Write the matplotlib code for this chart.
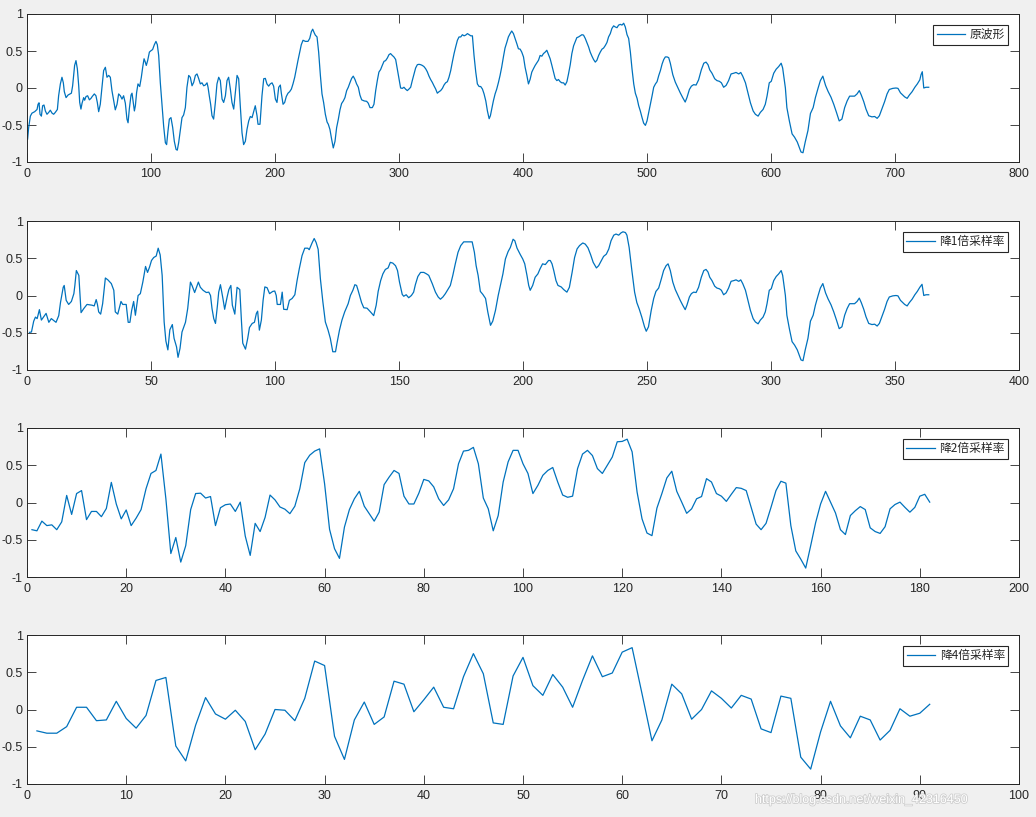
import numpy as np
import matplotlib
matplotlib.use("Agg")
import matplotlib.pyplot as plt
import matplotlib.patheffects as pe

# ---------------- data ----------------
labels = ["原波形", "降1倍采样率", "降2倍采样率", "降4倍采样率"]
xlims = [800, 400, 200, 100]
xsteps = [100, 50, 20, 10]

# panel 1: original waveform (vertices)
wave_x = [
    0.5, 1.3, 2.7, 4.0, 6.2, 8.1, 8.9, 9.7, 10.5, 11.6,
    12.6, 13.7, 14.8, 16.1, 17.5, 18.8, 20.2, 21.5, 22.8, 24.5,
    25.5, 26.9, 28.2, 29.3, 30.1, 31.5, 33.1, 34.7, 35.8, 36.8,
    38.4, 39.5, 40.6, 41.7, 42.5, 43.5, 44.4, 45.7, 46.5, 47.6,
    48.9, 50.3, 51.6, 52.6, 54.3, 55.6, 56.7, 57.8, 59.1, 60.5,
    61.8, 63.2, 64.5, 65.9, 67.2, 68.5, 69.9, 71.2, 72.6, 73.9,
    75.3, 76.6, 77.9, 79.3, 80.6, 81.5, 82.5, 83.9, 84.7, 85.5,
    86.6, 87.4, 88.4, 89.5, 90.9, 92.2, 93.3, 94.4, 95.4, 96.2,
    97.3, 98.7, 99.7, 101.3, 102.7, 104.0, 105.1, 106.2, 107.5, 108.9,
    110.2, 111.6, 112.6, 113.7, 114.8, 116.1, 117.5, 118.8, 120.2, 121.2,
    122.3, 123.7, 125.0, 126.3, 127.7, 129.0, 130.4, 131.7, 133.1, 134.4,
    135.8, 137.1, 138.4, 139.8, 141.1, 142.5, 143.8, 145.2, 146.0, 147.0,
    148.1, 149.2, 150.5, 151.9, 153.2, 154.6, 155.9, 157.3, 158.6, 160.0,
    161.3, 162.6, 164.0, 165.3, 166.7, 168.0, 169.4, 170.7, 172.0, 173.4,
    174.7, 176.1, 177.4, 178.8, 180.1, 181.5, 182.8, 184.1, 185.5, 186.3,
    187.9, 189.5, 190.9, 192.2, 193.5, 194.9, 196.2, 197.6, 198.9, 200.3,
    201.6, 203.0, 204.3, 205.1, 206.5, 207.8, 209.1, 210.5, 211.8, 213.2,
    214.5, 215.9, 217.2, 218.5, 219.9, 221.2, 222.6, 224.5, 226.6, 228.0,
    229.3, 230.4, 231.5, 232.5, 233.9, 235.2, 236.6, 237.9, 239.2, 240.6,
    242.0,
    243.0, 244.3, 245.7, 247.0, 248.4, 249.7, 251.1, 252.4, 253.7, 255.1,
    256.4, 257.8, 259.1, 260.4, 261.8, 263.1, 264.5, 265.8, 267.2, 268.5,
    269.9, 272.0, 273.9, 275.2, 276.6, 278.5, 279.8, 281.2, 282.5, 283.8,
    285.2, 286.5, 287.9, 289.2, 290.6, 291.9, 293.2, 294.6, 295.9, 297.3,
    298.6, 300.0, 301.3, 302.7, 304.0, 305.3, 306.7, 308.0, 309.4, 310.7,
    312.1, 313.4, 314.8, 316.1, 317.5, 318.8, 320.1, 321.5, 322.8, 324.2,
    325.5, 326.9, 328.2, 329.6, 330.9, 332.3, 333.6, 335.0, 336.3, 337.6,
    339.0, 340.3, 341.7, 343.0, 344.4, 345.7, 347.1, 348.4, 349.8, 351.1,
    352.5, 353.8, 355.2, 356.5, 357.9, 359.2, 360.5, 361.9, 363.2, 364.6,
    365.9, 367.3, 368.6, 370.0, 371.3, 372.7, 373.7, 374.8, 376.1, 377.5,
    378.8, 380.2, 381.5, 382.8, 384.2, 385.5, 386.9, 388.2, 389.6, 390.9,
    392.3, 393.6, 395.0, 396.3, 397.7, 399.0, 400.4, 401.7, 403.1, 404.4,
    405.7, 407.1, 408.4, 409.8, 411.1, 412.5, 413.8, 415.2, 416.5, 417.9,
    419.2, 420.6, 421.9, 423.3, 424.6, 425.9, 427.3, 428.6, 430.0, 431.3,
    432.7, 434.0, 435.4, 436.7, 438.1, 439.4, 440.8, 442.1, 443.4, 444.8,
    446.1, 447.5, 448.8, 450.2, 451.5, 452.9, 454.2, 455.6, 456.9, 458.3,
    459.6, 461.0, 462.3, 463.7, 465.0, 466.4, 467.7, 469.0, 470.4, 471.7,
    473.1, 474.4, 475.8, 477.1, 478.5, 479.8, 481.2, 482.5, 483.9, 485.2,
    486.6, 487.9, 489.3, 490.6, 492.0, 493.3, 494.6, 496.0, 497.3, 498.7,
    500.0, 501.4, 502.7, 504.1, 505.4, 506.8, 508.1, 509.5, 510.8, 512.2,
    513.5, 514.8, 516.2, 517.5,
    518.8, 520.8, 522.8, 525.0, 526.8, 528.8, 530.8, 532.2, 534.2, 535.8,
    537.6, 539.6, 541.6, 543.8, 545.8, 547.6, 549.2, 550.6, 552.4, 554.6,
    556.4, 558.4, 560.0, 561.8, 563.8, 565.8, 567.8, 570.0, 571.8, 574.0,
    575.6, 577.2, 579.4, 581.4, 583.4, 585.6, 587.4, 589.6, 591.4, 593.6,
    595.4, 596.8, 598.6, 600.2, 602.2, 604.2, 606.2, 608.2, 609.4, 611.6,
    612.8, 614.8, 617.0, 619.0, 621.2, 622.8, 624.2, 625.8, 627.6, 629.8,
    631.8, 634.0, 635.8, 638.0, 639.8, 641.8, 644.0, 646.0, 648.4, 650.6,
    652.8, 655.0, 657.2, 659.4, 661.4, 663.4, 667.4, 669.4, 671.2, 672.8,
    674.8, 676.6, 678.8, 681.4, 683.6, 685.6, 687.4, 689.4, 691.6, 693.6,
    695.4, 698.2, 700.8, 702.4, 704.4, 706.2, 707.8, 709.8, 711.6, 713.8,
    716.0, 718.0, 720.0, 721.0, 722.0, 723.2, 725.0, 727.2,
]
wave_y = [
    -0.69, -0.54, -0.38, -0.34, -0.32, -0.29, -0.22, -0.2, -0.355, -0.38,
    -0.24, -0.23, -0.31, -0.355, -0.33, -0.30, -0.34, -0.355, -0.33, -0.29,
    -0.105, 0.055, 0.145, 0.07, -0.05, -0.13, -0.095, -0.08, -0.07, 0.03,
    0.305, 0.37, 0.26, 0.03, -0.195, -0.285, -0.205, -0.13, -0.165, -0.115,
    -0.105, -0.16, -0.14, -0.115, -0.08, -0.105, -0.195, -0.32, -0.22, 0.01,
    0.235, 0.28, 0.145, 0.17, 0.145, -0.035, -0.17, -0.295, -0.22, -0.08,
    -0.105, -0.15, -0.105, -0.205, -0.42, -0.47, -0.285, -0.095, -0.07, -0.17,
    -0.31, -0.24, -0.06, 0.055, 0.02, 0.145, 0.28, 0.395, 0.35, 0.305,
    0.37, 0.485, 0.5, 0.52, 0.585, 0.63, 0.585, 0.44, 0.075, -0.24,
    -0.515, -0.74, -0.765, -0.58, -0.42, -0.4, -0.535, -0.72, -0.83, -0.84,
    -0.74, -0.56, -0.40, -0.365, -0.265, 0.01, 0.17, 0.145, 0.03, 0.075,
    0.17, 0.19, 0.13, 0.055, 0.07, 0.03, 0.04, 0.07, 0.01, -0.105,
    -0.22, -0.375, -0.42, -0.195, 0.055, 0.145, 0.1, -0.15, -0.195, -0.105,
    0.1, 0.145, -0.015, -0.195, -0.285, -0.06, 0.17, 0.125, -0.24, -0.605,
    -0.765, -0.72, -0.56, -0.445, -0.385, -0.4, -0.32, -0.24, -0.375, -0.49,
    -0.49, -0.105, 0.125, 0.13, 0.055, 0.025, 0.055, 0.07, 0.025, -0.15,
    -0.195, 0.01, 0.04, -0.07, -0.22, -0.195, -0.115, -0.07, -0.05, -0.015,
    0.055, 0.145, 0.26, 0.37, 0.485, 0.585, 0.645, 0.63, 0.63, 0.67,
    0.76, 0.795, 0.75, 0.715, 0.69, 0.485, 0.17, -0.08, -0.195, -0.355,
    -0.46,
    -0.49, -0.56, -0.695, -0.81, -0.72, -0.535, -0.42, -0.295, -0.21, -0.175,
    -0.13, -0.035, 0.01, 0.07, 0.13, 0.16, 0.115, 0.055, 0.01, -0.095,
    -0.16, -0.175, -0.18, -0.205, -0.265, -0.265, -0.22, -0.035, 0.1, 0.215,
    0.25, 0.305, 0.36, 0.37, 0.405, 0.45, 0.465, 0.44, 0.42, 0.385,
    0.26, 0.125, 0.0, -0.005, 0.01, -0.015, -0.035, -0.015, 0.01, 0.1,
    0.19, 0.27, 0.315, 0.32, 0.315, 0.305, 0.29, 0.26, 0.22, 0.16,
    0.115, 0.075, 0.03, -0.015, -0.07, -0.05, -0.035, -0.005, 0.04, 0.07,
    0.085, 0.145, 0.235, 0.35, 0.465, 0.555, 0.645, 0.69, 0.69, 0.72,
    0.705, 0.715, 0.735, 0.72, 0.705, 0.705, 0.44, 0.215, 0.055, 0.02,
    0.02, -0.015, -0.08, -0.175, -0.31, -0.415, -0.375, -0.285, -0.175, -0.08,
    -0.015, 0.075, 0.17, 0.28, 0.42, 0.54, 0.615, 0.69, 0.735, 0.77,
    0.735, 0.67, 0.6, 0.53, 0.525, 0.485, 0.42, 0.28, 0.17, 0.055,
    0.115, 0.215, 0.26, 0.305, 0.34, 0.375, 0.44, 0.43, 0.465, 0.485,
    0.51, 0.45, 0.395, 0.305, 0.215, 0.13, 0.1, 0.115, 0.085, 0.07,
    0.07, 0.04, 0.085, 0.19, 0.315, 0.465, 0.57, 0.625, 0.68, 0.69,
    0.705, 0.72, 0.715, 0.67, 0.615, 0.555, 0.485, 0.43, 0.385, 0.35,
    0.375, 0.44, 0.485, 0.525, 0.54, 0.575, 0.615, 0.69, 0.735, 0.805,
    0.84, 0.825, 0.815, 0.85, 0.86, 0.85, 0.875, 0.825, 0.72, 0.67,
    0.485, 0.26, 0.055, -0.07, -0.14, -0.24, -0.31, -0.4, -0.475, -0.505,
    -0.445, -0.33, -0.22, -0.105, 0.01, 0.055, 0.085, 0.17, 0.235, 0.325,
    0.385, 0.42, 0.42, 0.41,
    0.335, 0.18, 0.08, 0.0, -0.065, -0.13, -0.19, -0.13, -0.02, 0.025,
    0.045, 0.04, 0.11, 0.245, 0.335, 0.35, 0.315, 0.245, 0.2, 0.125,
    0.1, 0.09, 0.07, 0.01, 0.035, 0.1, 0.19, 0.2, 0.21, 0.19,
    0.21, 0.16, 0.07, -0.065, -0.2, -0.31, -0.355, -0.38, -0.33, -0.29,
    -0.22, -0.11, 0.07, 0.09, 0.2, 0.255, 0.29, 0.335, 0.27, 0.0,
    -0.265, -0.445, -0.62, -0.665, -0.73, -0.8, -0.865, -0.875, -0.73, -0.575,
    -0.345, -0.265, -0.13, 0.0, 0.1, 0.16, 0.035, -0.045, -0.125, -0.22,
    -0.33, -0.445, -0.42, -0.265, -0.175, -0.11, -0.11, -0.08, -0.035, -0.095,
    -0.185, -0.285, -0.375, -0.39, -0.385, -0.41, -0.375, -0.285, -0.185, -0.08,
    -0.02, -0.005, 0.0, -0.005, -0.065, -0.095, -0.12, -0.14, -0.095, -0.05,
    0.01, 0.055, 0.11, 0.18, 0.22, 0.0, 0.01, 0.01,
]

# panel 2: downsampled by 2 (vertices)
ds1_x = [
    1.0, 1.8, 2.7, 3.4, 4.1, 5.0, 5.8, 7.7, 8.8, 9.8,
    11.7, 12.8, 13.5, 14.6, 15.0, 15.8, 16.8, 17.9, 18.9, 19.3,
    19.9, 20.9, 21.8, 22.9, 24.2, 26.2, 27.1, 27.9, 28.4, 28.9,
    29.7, 30.5, 31.6, 32.6, 34.0, 35.0, 35.6, 36.6, 37.9, 38.6,
    40.0, 40.8, 41.5, 42.2, 43.0, 43.7, 44.8, 45.7, 46.7, 47.8,
    48.6, 49.4, 50.2, 51.1, 52.1, 52.9, 53.7, 54.5, 55.3, 56.0,
    56.8, 57.6, 58.6, 59.3, 60.3, 60.9, 61.7, 62.5, 63.9, 64.8,
    65.9, 66.6, 67.6, 68.6, 69.1, 69.9, 71.0, 72.3, 73.3, 74.0,
    74.6, 75.3, 76.0, 76.8, 77.3, 78.0, 79.0, 79.7, 80.7, 81.4,
    82.2, 82.8, 83.8, 84.7, 85.8, 86.5, 87.0, 88.1, 89.0, 89.7,
    90.8, 91.7, 92.5, 93.0, 93.7, 94.5, 95.2, 95.9, 96.8, 97.8,
    99.1, 99.9, 100.5, 100.9, 102.2, 102.9, 103.5, 104.9, 105.8, 106.9,
    108.0, 108.9, 109.8, 110.9, 112.0, 113.2, 113.8, 115.0, 115.8, 116.6,
    117.4, 118.3, 119.3, 120.3, 121.4, 122.3, 123.3, 124.4, 125.0, 126.0,
    127.0, 128.1, 129.5, 130.4, 131.4, 132.2, 132.9, 133.5, 134.9, 135.8,
    137.1, 138.5, 139.8, 140.8, 141.6, 142.6, 143.5, 144.5, 145.6, 146.5,
    147.5, 148.6, 149.4, 150.2, 151.3, 151.9, 152.9, 153.9, 155.0, 155.9,
    156.6, 157.6, 158.7, 160.0, 161.1, 162.0, 163.4, 164.7, 165.8, 166.7,
    167.7, 168.7, 169.7, 170.7, 171.7, 172.7, 173.8, 174.9, 176.1, 177.9,
    179.5, 180.4, 181.1, 181.9, 182.8, 183.8, 184.9, 185.8, 186.5, 186.9,
    187.8, 188.9, 190.0, 190.9, 191.9, 192.9, 194.0, 194.9, 196.0, 196.7,
    197.6, 198.9, 199.9, 200.7, 201.6, 202.3, 202.9, 203.9, 204.9, 206.0,
    206.9, 207.9, 209.0, 210.3, 211.0, 211.7, 212.4, 213.3, 214.1, 215.4,
    216.4, 217.7, 218.7, 219.8, 220.8, 221.8, 222.8, 224.1, 225.1, 226.2,
    227.3, 228.3, 229.6, 230.5, 231.6, 232.5, 233.6, 234.6, 235.5, 236.6,
    237.5, 238.6, 239.5, 240.3, 241.3, 241.9, 242.8, 243.9, 245.0, 245.9,
    246.9, 247.9, 249.0, 249.7, 250.6, 251.7, 252.7, 253.6, 254.7, 255.8,
    256.7, 257.7, 258.5, 259.4, 260.4, 261.4, 262.5, 263.4, 264.4, 265.4,
    266.1, 267.1, 267.9, 268.8, 269.8, 270.8, 271.9, 272.9, 273.8, 274.6,
    275.3, 276.2, 277.3, 278.2, 279.2, 280.0, 280.9, 281.9, 282.9, 283.9,
    285.0, 285.9, 287.0, 287.8, 288.6, 289.7, 290.7, 291.7, 292.8, 293.7,
    294.8, 295.7, 296.8, 297.7, 298.4, 299.3, 300.1, 301.1, 302.1, 303.1,
    304.1, 304.7, 305.8, 306.4, 307.4, 308.5, 309.5, 310.6, 311.4, 312.1,
    312.9, 313.8, 314.9, 315.9, 317.0, 317.9, 319.0, 319.9, 320.9, 322.0,
    323.0, 324.2, 325.3, 326.4, 327.5, 328.6, 329.7, 330.7, 331.7, 333.7,
    334.7, 335.6, 336.4, 337.4, 338.3, 339.4, 340.7, 341.8, 342.8, 343.7,
    344.7, 345.8, 346.8, 347.7, 349.1, 350.4, 351.2, 352.2, 353.1, 353.9,
    354.9, 355.8, 356.9, 358.0, 359.0, 360.0, 360.9, 361.6, 362.5, 363.6,
]
ds1_y = [
    -0.495, -0.49, -0.345, -0.29, -0.31, -0.19, -0.33, -0.24, -0.36, -0.31,
    -0.36, -0.27, -0.095, 0.11, 0.135, -0.065, -0.12, -0.08, 0.025, 0.135,
    0.335, 0.27, -0.23, -0.175, -0.12, -0.13, -0.14, -0.055, -0.12, -0.22,
    -0.25, -0.11, 0.235, 0.21, 0.16, 0.07, -0.22, -0.25, -0.08, -0.12,
    -0.12, -0.36, -0.36, -0.2, -0.08, -0.265, 0.0, 0.025, 0.18, 0.39,
    0.31, 0.38, 0.47, 0.51, 0.53, 0.635, 0.545, 0.27, -0.355, -0.61,
    -0.73, -0.46, -0.39, -0.575, -0.69, -0.83, -0.71, -0.49, -0.36, -0.175,
    0.18, 0.13, 0.04, 0.135, 0.18, 0.11, 0.07, 0.04, 0.045, 0.0,
    -0.175, -0.31, -0.375, -0.13, 0.045, 0.145, -0.04, -0.185, -0.02, 0.08,
    0.135, -0.13, -0.25, 0.11, 0.08, -0.36, -0.64, -0.72, -0.575, -0.43,
    -0.375, -0.36, -0.24, -0.21, -0.465, -0.33, -0.065, 0.115, 0.105, 0.025,
    0.055, 0.06, 0.0, -0.12, -0.12, 0.045, -0.185, -0.19, -0.065, -0.04,
    0.01, 0.2, 0.36, 0.535, 0.635, 0.635, 0.615, 0.71, 0.765, 0.71,
    0.62, 0.225, -0.085, -0.355, -0.465, -0.575, -0.755, -0.755, -0.64, -0.465,
    -0.33, -0.22, -0.11, 0.0, 0.07, 0.145, 0.135, 0.07, -0.095, -0.165,
    -0.17, -0.22, -0.27, -0.13, 0.055, 0.2, 0.29, 0.35, 0.37, 0.445,
    0.435, 0.40, 0.335, 0.18, 0.015, -0.01, 0.01, -0.03, 0.0, 0.045,
    0.145, 0.255, 0.31, 0.31, 0.29, 0.27, 0.16, 0.045, -0.02, -0.05,
    -0.02, 0.025, 0.08, 0.135, 0.27, 0.425, 0.58, 0.67, 0.72, 0.72,
    0.72, 0.58, 0.40, 0.27, 0.055, 0.015, -0.04, -0.22, -0.33, -0.40,
    -0.345, -0.2, 0.0, 0.135, 0.29, 0.49, 0.59, 0.645, 0.755, 0.735,
    0.635, 0.55, 0.49, 0.425, 0.27, 0.135, 0.07, 0.135, 0.245, 0.29,
    0.36, 0.425, 0.415, 0.47, 0.47, 0.425, 0.335, 0.2, 0.135, 0.115,
    0.08, 0.045, 0.11, 0.31, 0.51, 0.625, 0.67, 0.705, 0.69, 0.64,
    0.545, 0.445, 0.37, 0.40, 0.47, 0.525, 0.555, 0.625, 0.735, 0.81,
    0.825, 0.81, 0.84, 0.855, 0.845, 0.81, 0.645, 0.335, 0.045, -0.095,
    -0.185, -0.29, -0.42, -0.48, -0.42, -0.2, -0.04, 0.055, 0.1, 0.225,
    0.335, 0.40, 0.425, 0.335, 0.18, 0.08, 0.0, -0.065, -0.13, -0.19,
    -0.13, -0.02, 0.025, 0.045, 0.04, 0.11, 0.245, 0.335, 0.35, 0.315,
    0.245, 0.2, 0.125, 0.1, 0.09, 0.07, 0.01, 0.035, 0.1, 0.19,
    0.2, 0.21, 0.19, 0.21, 0.16, 0.07, -0.065, -0.2, -0.31, -0.355,
    -0.38, -0.33, -0.29, -0.22, -0.11, 0.07, 0.09, 0.2, 0.255, 0.29,
    0.335, 0.27, 0.0, -0.265, -0.445, -0.62, -0.665, -0.73, -0.8, -0.865,
    -0.875, -0.73, -0.575, -0.345, -0.265, -0.13, 0.0, 0.1, 0.16, 0.035,
    -0.045, -0.125, -0.22, -0.33, -0.445, -0.42, -0.265, -0.175, -0.11, -0.11,
    -0.08, -0.035, -0.095, -0.185, -0.285, -0.375, -0.39, -0.385, -0.41, -0.375,
    -0.285, -0.185, -0.08, -0.02, -0.005, 0.0, -0.005, -0.065, -0.095, -0.12,
    -0.14, -0.095, -0.05, 0.01, 0.055, 0.11, 0.15, 0.0, 0.01, 0.01,
]

# panel 3: downsampled by 4 (samples 1..182)
ds2_y = [
    -0.365, -0.38, -0.25, -0.31, -0.30, -0.365, -0.26, 0.095, -0.16, 0.12,
    0.16, -0.23, -0.12, -0.12, -0.19, -0.08, 0.27, -0.02, -0.22, -0.10,
    -0.31, -0.21, -0.095, 0.185, 0.39, 0.43, 0.65, 0.05, -0.685, -0.47,
    -0.80, -0.58, -0.095, 0.12, 0.125, 0.06, 0.08, -0.31, -0.07, -0.03,
    -0.02, -0.12, 0.005, -0.45, -0.71, -0.28, -0.39, -0.20, 0.10, 0.035,
    -0.06, -0.09, -0.15, -0.05, 0.185, 0.535, 0.635, 0.69, 0.72, 0.25,
    -0.36, -0.62, -0.75, -0.33, -0.095, 0.05, 0.15, -0.05, -0.15, -0.25,
    -0.13, 0.24, 0.34, 0.43, 0.39, 0.085, -0.02, -0.02, 0.125, 0.31,
    0.29, 0.21, 0.05, -0.04, 0.035, 0.185, 0.52, 0.69, 0.70, 0.74,
    0.52, 0.06, -0.085, -0.38, -0.175, 0.275, 0.545, 0.70, 0.70, 0.52,
    0.39, 0.12, 0.23, 0.365, 0.43, 0.47, 0.275, 0.10, 0.07, 0.085,
    0.455, 0.65, 0.70, 0.63, 0.455, 0.39, 0.50, 0.61, 0.815, 0.82,
    0.85, 0.68, 0.14, -0.22, -0.41, -0.445, -0.075, 0.12, 0.33, 0.42,
    0.15, 0.005, -0.145, -0.085, 0.05, 0.08, 0.32, 0.275, 0.12, 0.085,
    0.015, 0.11, 0.20, 0.19, 0.16, -0.065, -0.29, -0.365, -0.28, -0.065,
    0.16, 0.285, 0.26, -0.31, -0.65, -0.76, -0.88, -0.58, -0.27, -0.02,
    0.15, 0.005, -0.14, -0.365, -0.43, -0.175, -0.11, -0.055, -0.095, -0.34,
    -0.39, -0.415, -0.325, -0.085, -0.027, 0.005, -0.065, -0.13, -0.065, 0.085,
    0.11, 0.005,
]

# panel 4: downsampled by 8 (samples 1..91)
ds3_y = [
    -0.287, -0.318, -0.318, -0.23, 0.03, 0.03, -0.15, -0.14, 0.11, -0.12,
    -0.25, -0.08, 0.39, 0.43, -0.49, -0.69, -0.21, 0.16, -0.06, -0.13,
    -0.01, -0.16, -0.54, -0.33, 0.0, -0.01, -0.15, 0.15, 0.65, 0.59,
    -0.36, -0.67, -0.14, 0.10, -0.20, -0.10, 0.38, 0.34, -0.03, 0.13,
    0.30, 0.03, 0.01, 0.44, 0.75, 0.48, -0.18, -0.20, 0.45, 0.70,
    0.32, 0.19, 0.47, 0.30, 0.03, 0.39, 0.72, 0.44, 0.49, 0.77,
    0.83, 0.21, -0.42, -0.14, 0.34, 0.21, -0.13, 0.0, 0.25, 0.15,
    0.02, 0.19, 0.14, -0.26, -0.31, 0.18, 0.15, -0.64, -0.80, -0.30,
    0.11, -0.22, -0.38, -0.09, -0.14, -0.41, -0.28, 0.01, -0.09, -0.05,
    0.07,
]

# ---------------- figure ----------------
LINE = "#0072BD"
AX = "#262626"
plt.rcParams["font.family"] = ["Liberation Sans", "DejaVu Sans"]

W, H = 1036, 817
fig = plt.figure(figsize=(W / 100, H / 100), dpi=100, facecolor="#f0f0f0")

boxes = [(27, 14, 1019, 162), (27, 221, 1019, 370), (27, 428, 1019, 577), (27, 635, 1019, 784)]
series = [
    (wave_x, wave_y),
    (ds1_x, ds1_y),
    (np.arange(1, len(ds2_y) + 1), ds2_y),
    (np.arange(1, len(ds3_y) + 1), ds3_y),
]

for i, ((l, t, r, b), (xs, ys)) in enumerate(zip(boxes, series)):
    ax = fig.add_axes([l / W, 1 - b / H, (r - l) / W, (b - t) / H])
    ax.set_facecolor("white")
    ax.plot(xs, ys, color=LINE, lw=0.9, label=labels[i])
    ax.set_xlim(0, xlims[i])
    ax.set_ylim(-1, 1)
    ax.set_xticks(np.arange(0, xlims[i] + 1, xsteps[i]))
    ax.set_yticks([-1, -0.5, 0, 0.5, 1])
    ax.set_yticklabels(["-1", "-0.5", "0", "0.5", "1"])
    ax.tick_params(direction="in", length=6.5, width=0.6, color=AX,
                   labelcolor=AX, labelsize=9, top=True, right=True)
    ax.tick_params(axis="x", pad=4)
    ax.tick_params(axis="y", pad=3)
    for s in ax.spines.values():
        s.set_color(AX)
        s.set_linewidth(0.7)
    leg = ax.legend(loc="upper right", fontsize=8.5, fancybox=False,
                    framealpha=1, edgecolor=AX, handlelength=2.4,
                    handletextpad=0.4, borderpad=0.3, borderaxespad=0.9,
                    prop={"family": ["Noto Sans CJK SC", "DejaVu Sans"], "size": 8.5})
    leg.get_frame().set_linewidth(0.8)
    for txt in leg.get_texts():
        txt.set_color(AX)

fig.text(755 / W, 1 - 800 / H, "https://blog.csdn.net/weixin_42316450",
         fontsize=9, color="white", va="center", ha="left",
         path_effects=[pe.withStroke(linewidth=1.2, foreground="#cfcfcf")])

fig.savefig("out.png", dpi=100, facecolor=fig.get_facecolor())
